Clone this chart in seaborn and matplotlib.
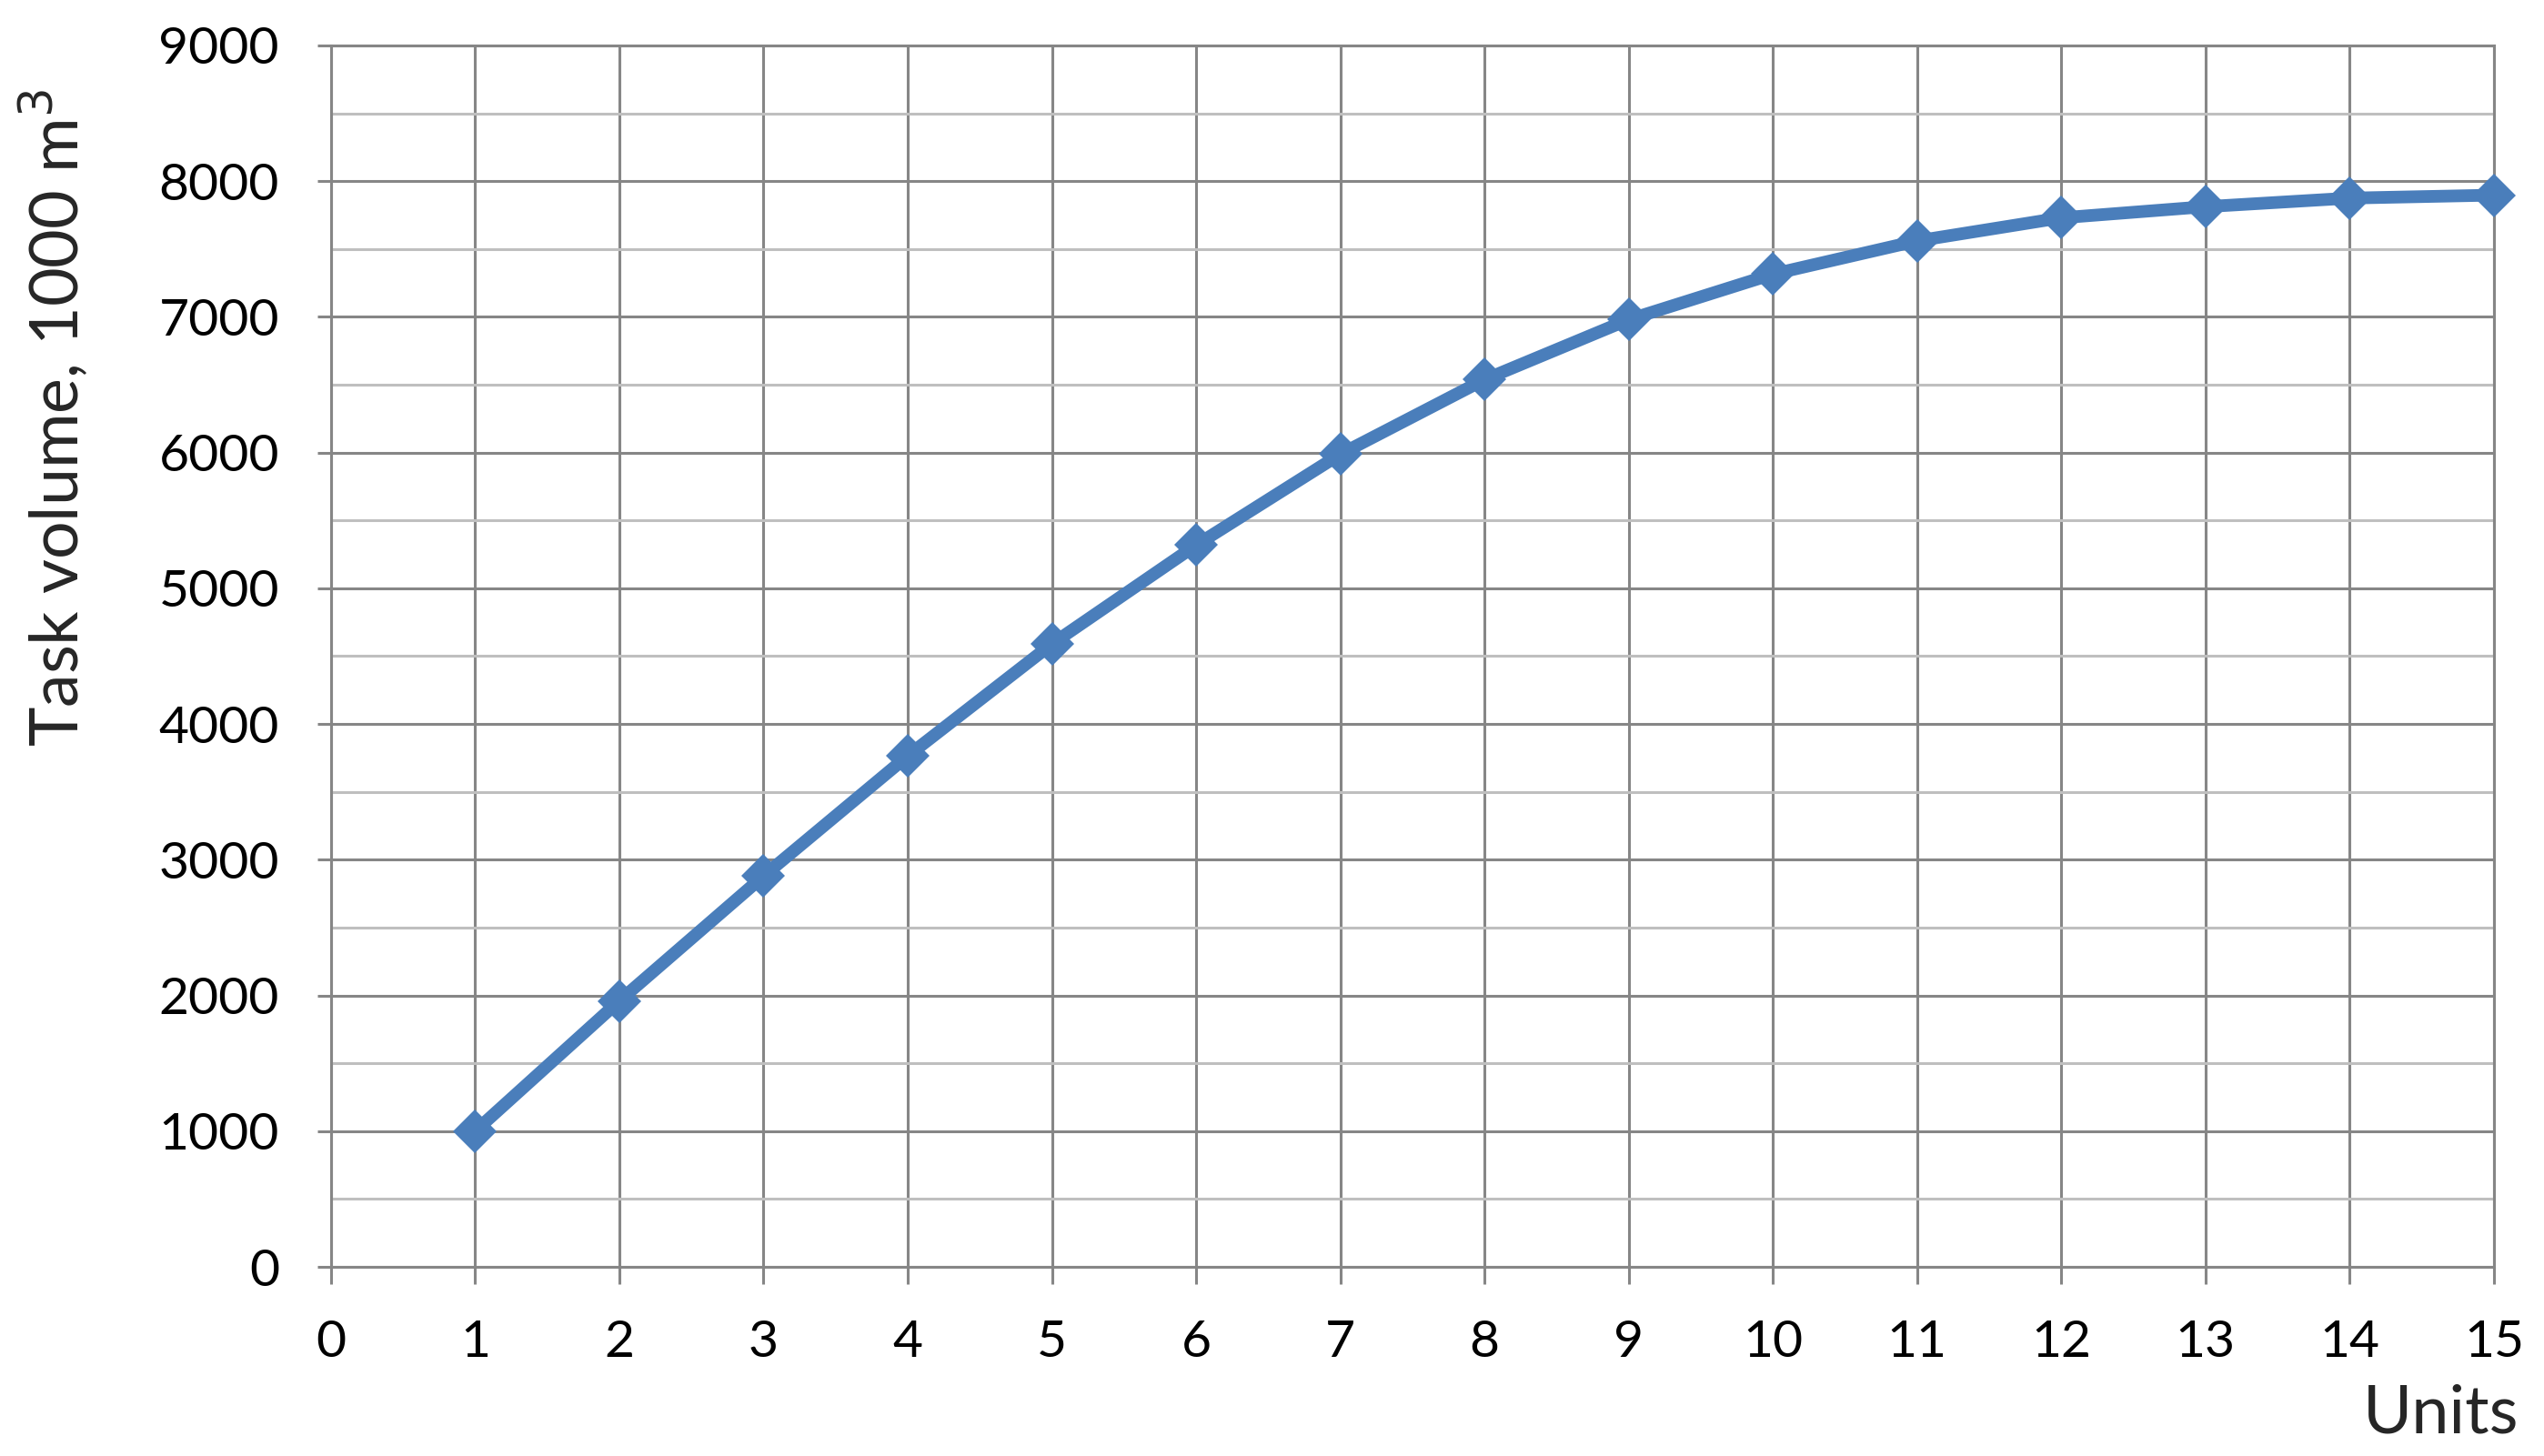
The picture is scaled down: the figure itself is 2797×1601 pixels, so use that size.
import numpy as np
import pandas as pd
import matplotlib
matplotlib.use("Agg")
import matplotlib.pyplot as plt
import seaborn as sns
from matplotlib.ticker import MultipleLocator

# data
units = [1, 2, 3, 4, 5, 6, 7, 8, 9, 10, 11, 12, 13, 14, 15]
volume = [1000, 1960, 2880, 3765, 4590, 5318, 5988, 6538, 6980, 7315, 7560, 7730, 7812, 7875, 7897]
x_ticks = list(range(0, 16))
y_ticks = list(range(0, 9001, 1000))

GRID = "#868686"
MINOR = "#bfbfbf"
LINE = "#4a7ebb"

sns.set_style("white")
plt.rcParams["font.family"] = ["Lato", "DejaVu Sans"]

df = pd.DataFrame({"Units": units, "Volume": volume})

fig = plt.figure(figsize=(27.97, 16.01), dpi=100)
ax = fig.add_axes([0.1301, 0.1299, 0.8502, 0.8389])

# grid first so it sits under the series
ax.set_axisbelow(True)
ax.yaxis.set_minor_locator(MultipleLocator(500))
ax.grid(which="major", color=GRID, linewidth=2.2)
ax.grid(which="minor", axis="y", color=MINOR, linewidth=2.2)

sns.lineplot(data=df, x="Units", y="Volume", ax=ax, color=LINE, linewidth=10,
             marker="D", markersize=24, markeredgewidth=0, markerfacecolor=LINE,
             zorder=5, clip_on=False)

ax.set_xlim(0, 15)
ax.set_ylim(0, 9000)
ax.set_xticks(x_ticks)
ax.set_yticks(y_ticks)
ax.set_xticklabels([str(t) for t in x_ticks])
ax.set_yticklabels([str(t) for t in y_ticks])

ax.tick_params(axis="x", which="major", length=14, width=2.2, color=GRID,
               pad=28, labelsize=41, labelcolor="black", bottom=True)
ax.tick_params(axis="y", which="major", length=11, width=2.2, color=GRID,
               pad=30, labelsize=41, labelcolor="black", left=True)
ax.tick_params(axis="y", which="minor", length=0)

for side in ["left", "right", "top", "bottom"]:
    ax.spines[side].set_visible(True)
    ax.spines[side].set_color(GRID)
    ax.spines[side].set_linewidth(2.2)

ax.set_xlabel("")
ax.set_ylabel("")
fig.text(0.021, 0.713, "Task volume, 1000 m$^3$", rotation=90, ha="center",
         va="center", fontsize=53)
fig.text(0.990, 0.016, "Units", ha="right", va="baseline", fontsize=53)

fig.savefig("out.png", dpi=100)
